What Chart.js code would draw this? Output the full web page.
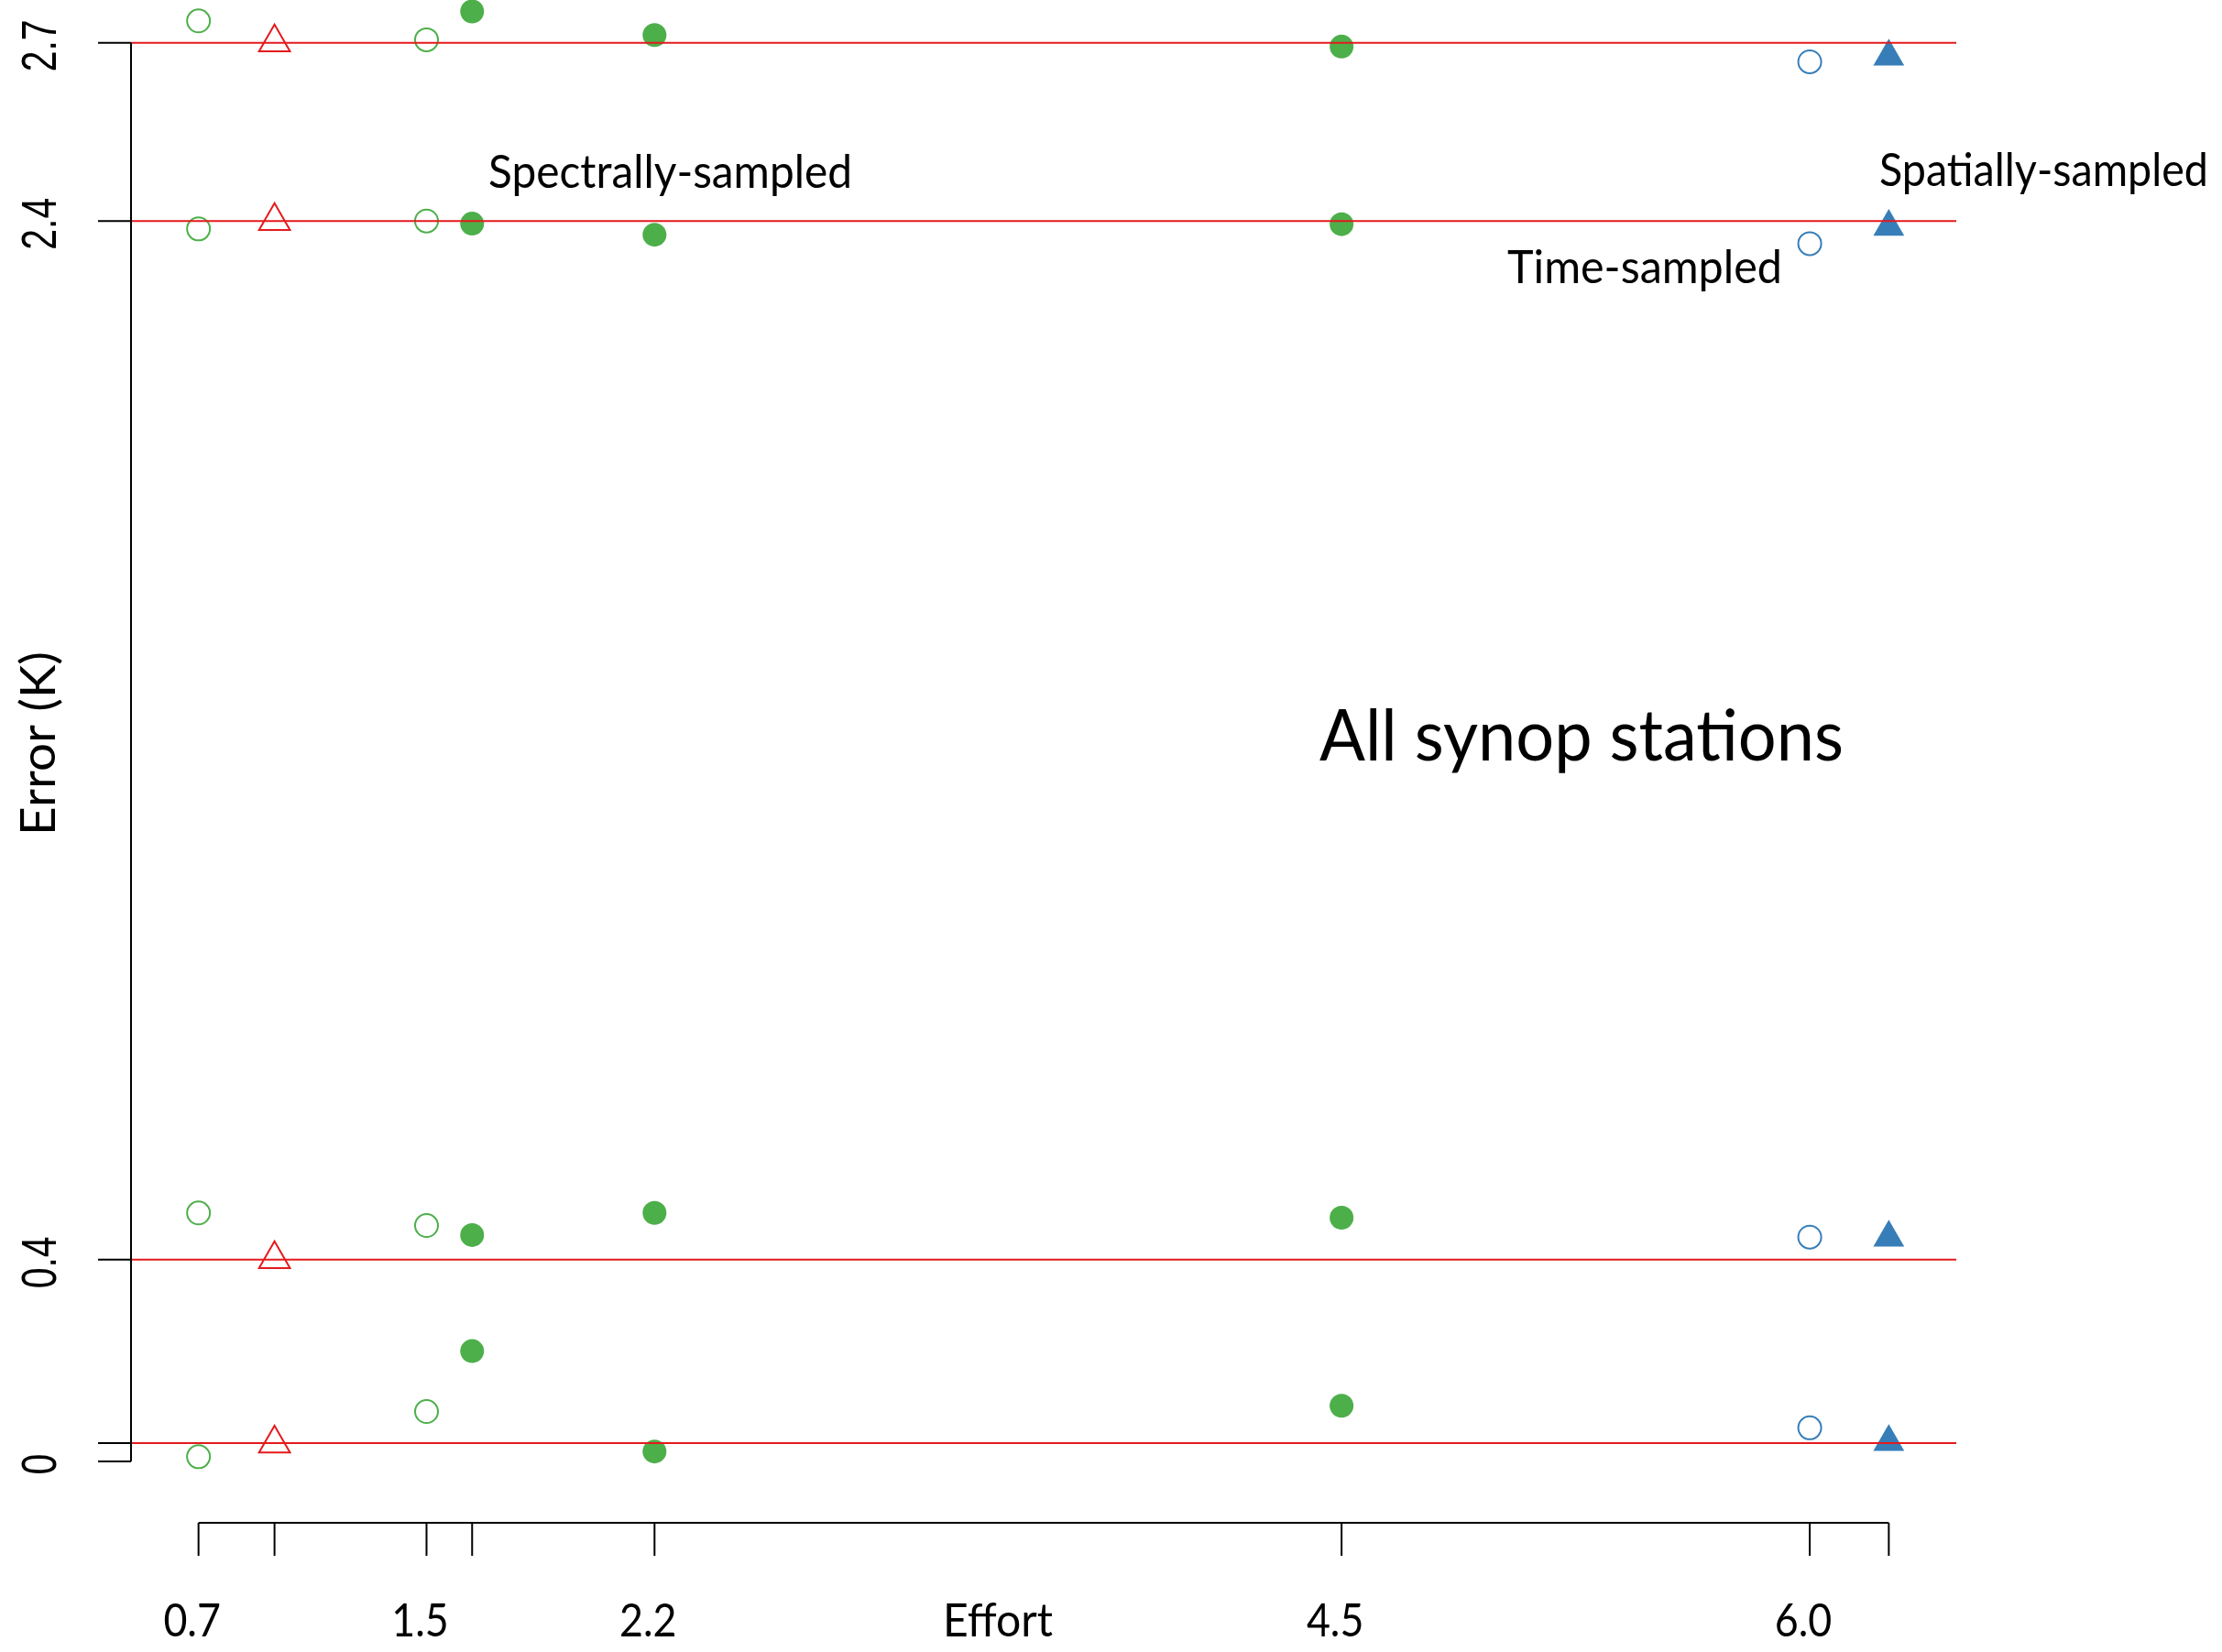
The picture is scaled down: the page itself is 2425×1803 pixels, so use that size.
<!DOCTYPE html>
<html>
<head>
<meta charset="utf-8">
<script src="https://cdn.jsdelivr.net/npm/chart.js@4.4.1/dist/chart.umd.min.js"></script>
<style>
  html, body { margin: 0; padding: 0; background: #ffffff; }
  #wrap { width: 2425px; height: 1803px; position: relative; }
</style>
</head>
<body>
<div id="wrap"><canvas id="c"></canvas></div>
<script>
// ---------------- data ----------------
const effortTicks      = [0.7, 0.95, 1.45, 1.6, 2.2, 4.46, 6.0, 6.26];
const effortTickLabels = ['0.7', '', '1.5', '', '2.2', '4.5', '6.0', ''];
const errorTicks       = [0, 0.035, 0.384, 2.361, 2.7];
const errorTickLabels  = ['0', '', '0.4', '2.4', '2.7'];
const referenceLines   = [0.035, 0.384, 2.361, 2.7];

// spectrally-sampled, open green circles
const spectralOpenEffort = [0.7, 1.45];
const spectralOpen07     = [2.742, 2.346, 0.473, 0.009];
const spectralOpen145    = [2.706, 2.361, 0.449, 0.095];
// spectrally-sampled, filled green circles
const spectralFilledEffort = [1.6, 2.2, 4.46];
const spectralFilled16     = [2.760, 2.356, 0.431, 0.210];
const spectralFilled22     = [2.715, 2.335, 0.473, 0.019];
const spectralFilled446    = [2.693, 2.355, 0.464, 0.106];
// reference (red open triangles)
const referenceEffort = [0.95];
const referenceValues = [2.701, 2.361, 0.385, 0.034];
// time-sampled (open blue circles)
const timeEffort = [6.0];
const timeValues = [2.664, 2.318, 0.427, 0.064];
// spatially-sampled (filled blue triangles)
const spatialEffort = [6.26];
const spatialValues = [2.674, 2.350, 0.426, 0.037];

// ---------------- styling ----------------
const GREEN = '#4DAF4A', RED = '#E41A1C', BLUE = '#377EB8';
const LABEL_FONT = 'Lato, "Open Sans", sans-serif';
const TICK_FONT_Y = '"Liberation Sans", Arial, sans-serif';

function column(x, ys) { return ys.map(y => ({ x: x, y: y })); }

const datasets = [
  {
    label: 'Spectrally-sampled (open)',
    data: [].concat(column(spectralOpenEffort[0], spectralOpen07), column(spectralOpenEffort[1], spectralOpen145)),
    pointStyle: 'circle', pointRadius: 12.5, borderWidth: 2,
    borderColor: GREEN, backgroundColor: 'rgba(0,0,0,0)'
  },
  {
    label: 'Spectrally-sampled (filled)',
    data: [].concat(column(spectralFilledEffort[0], spectralFilled16),
                    column(spectralFilledEffort[1], spectralFilled22),
                    column(spectralFilledEffort[2], spectralFilled446)),
    pointStyle: 'circle', pointRadius: 13, borderWidth: 0,
    borderColor: GREEN, backgroundColor: GREEN
  },
  {
    label: 'Reference',
    data: column(referenceEffort[0], referenceValues),
    pointStyle: 'triangle', pointRadius: 19.5, borderWidth: 2,
    borderColor: RED, backgroundColor: 'rgba(0,0,0,0)'
  },
  {
    label: 'Time-sampled',
    data: column(timeEffort[0], timeValues),
    pointStyle: 'circle', pointRadius: 12.5, borderWidth: 2,
    borderColor: BLUE, backgroundColor: 'rgba(0,0,0,0)'
  },
  {
    label: 'Spatially-sampled',
    data: column(spatialEffort[0], spatialValues),
    pointStyle: 'triangle', pointRadius: 19.5, borderWidth: 0,
    borderColor: BLUE, backgroundColor: BLUE
  }
];

// draw text scaled so that its cap height and total width match
function fitText(ctx, text, family, capPx, targetW) {
  const size = capPx / 0.716;
  ctx.font = size.toFixed(2) + 'px ' + family;
  const w = ctx.measureText(text).width;
  return { font: ctx.font, sx: targetW / w };
}
function drawText(ctx, text, family, capPx, targetW, x, y, align, rotate) {
  const f = fitText(ctx, text, family, capPx, targetW);
  ctx.save();
  ctx.font = f.font;
  ctx.fillStyle = '#000';
  ctx.textAlign = align;
  ctx.textBaseline = 'alphabetic';
  ctx.translate(x, y);
  if (rotate) ctx.rotate(-Math.PI / 2);
  ctx.scale(f.sx, 1);
  ctx.fillText(text, 0, 0);
  ctx.restore();
}

const rPlot = {
  id: 'rPlot',
  afterDatasetsDraw(chart) {
    const ctx = chart.ctx;
    const xs = chart.scales.x, ys = chart.scales.y, ca = chart.chartArea;
    ctx.save();
    // reference lines (abline)
    ctx.strokeStyle = RED;
    ctx.lineWidth = 2;
    referenceLines.forEach(v => {
      const py = ys.getPixelForValue(v);
      ctx.beginPath(); ctx.moveTo(ca.left, py); ctx.lineTo(ca.right, py); ctx.stroke();
    });

    ctx.strokeStyle = '#000';
    ctx.lineWidth = 2;
    const tickLen = 36;
    // y axis
    const yTop = ys.getPixelForValue(Math.max.apply(null, errorTicks));
    const yBot = ys.getPixelForValue(Math.min.apply(null, errorTicks));
    ctx.beginPath(); ctx.moveTo(ca.left, yTop); ctx.lineTo(ca.left, yBot); ctx.stroke();
    errorTicks.forEach(v => {
      const py = ys.getPixelForValue(v);
      ctx.beginPath(); ctx.moveTo(ca.left, py); ctx.lineTo(ca.left - tickLen, py); ctx.stroke();
    });
    // y tick labels (rotated, Helvetica-like)
    const yFit = fitText(ctx, '2.7', TICK_FONT_Y, 39, 57);
    errorTicks.forEach((v, i) => {
      const lab = errorTickLabels[i];
      if (!lab) return;
      const py = ys.getPixelForValue(v);
      ctx.save();
      ctx.font = yFit.font; ctx.fillStyle = '#000';
      ctx.textAlign = 'center'; ctx.textBaseline = 'alphabetic';
      ctx.translate(61, py + 3);
      ctx.rotate(-Math.PI / 2);
      ctx.scale(yFit.sx, 1);
      ctx.fillText(lab, 0, 0);
      ctx.restore();
    });

    // x axis
    const axY = ca.bottom;
    const xL = xs.getPixelForValue(Math.min.apply(null, effortTicks));
    const xR = xs.getPixelForValue(Math.max.apply(null, effortTicks));
    ctx.beginPath(); ctx.moveTo(xL, axY); ctx.lineTo(xR, axY); ctx.stroke();
    effortTicks.forEach(v => {
      const px = xs.getPixelForValue(v);
      ctx.beginPath(); ctx.moveTo(px, axY); ctx.lineTo(px, axY + tickLen); ctx.stroke();
    });
    const xFit = fitText(ctx, '2.2', LABEL_FONT, 36, 62.5);
    effortTicks.forEach((v, i) => {
      const lab = effortTickLabels[i];
      if (!lab) return;
      const px = xs.getPixelForValue(v) - 7;
      ctx.save();
      ctx.font = xFit.font; ctx.fillStyle = '#000';
      ctx.textAlign = 'center'; ctx.textBaseline = 'alphabetic';
      ctx.translate(px, 1786);
      ctx.scale(xFit.sx, 1);
      ctx.fillText(lab, 0, 0);
      ctx.restore();
    });

    // axis titles
    drawText(ctx, 'Effort', LABEL_FONT, 36, 120, 1089, 1786, 'center', false);
    drawText(ctx, 'Error (K)', LABEL_FONT, 37, 201, 60, 811.5, 'center', true);

    // annotations
    drawText(ctx, 'Spectrally-sampled', LABEL_FONT, 36, 397, 533, 205, 'left', false);
    drawText(ctx, 'Spatially-sampled', LABEL_FONT, 36, 359, 2051, 203, 'left', false);
    drawText(ctx, 'Time-sampled', LABEL_FONT, 36, 300, 1645, 309, 'left', false);
    drawText(ctx, 'All synop stations', LABEL_FONT, 56, 572, 1440, 830, 'left', false);
    ctx.restore();
  }
};

new Chart(document.getElementById('c'), {
  type: 'scatter',
  data: { datasets: datasets },
  options: {
    responsive: true,
    maintainAspectRatio: false,
    animation: false,
    layout: { autoPadding: false, padding: { left: 143, right: 290, top: 0, bottom: 141 } },
    plugins: { legend: { display: false }, tooltip: { enabled: false } },
    scales: {
      x: { type: 'linear', min: 0.478, max: 6.482, display: false },
      y: { type: 'linear', min: -0.1168, max: 2.7817, display: false }
    }
  },
  plugins: [rPlot]
});
</script>
</body>
</html>
